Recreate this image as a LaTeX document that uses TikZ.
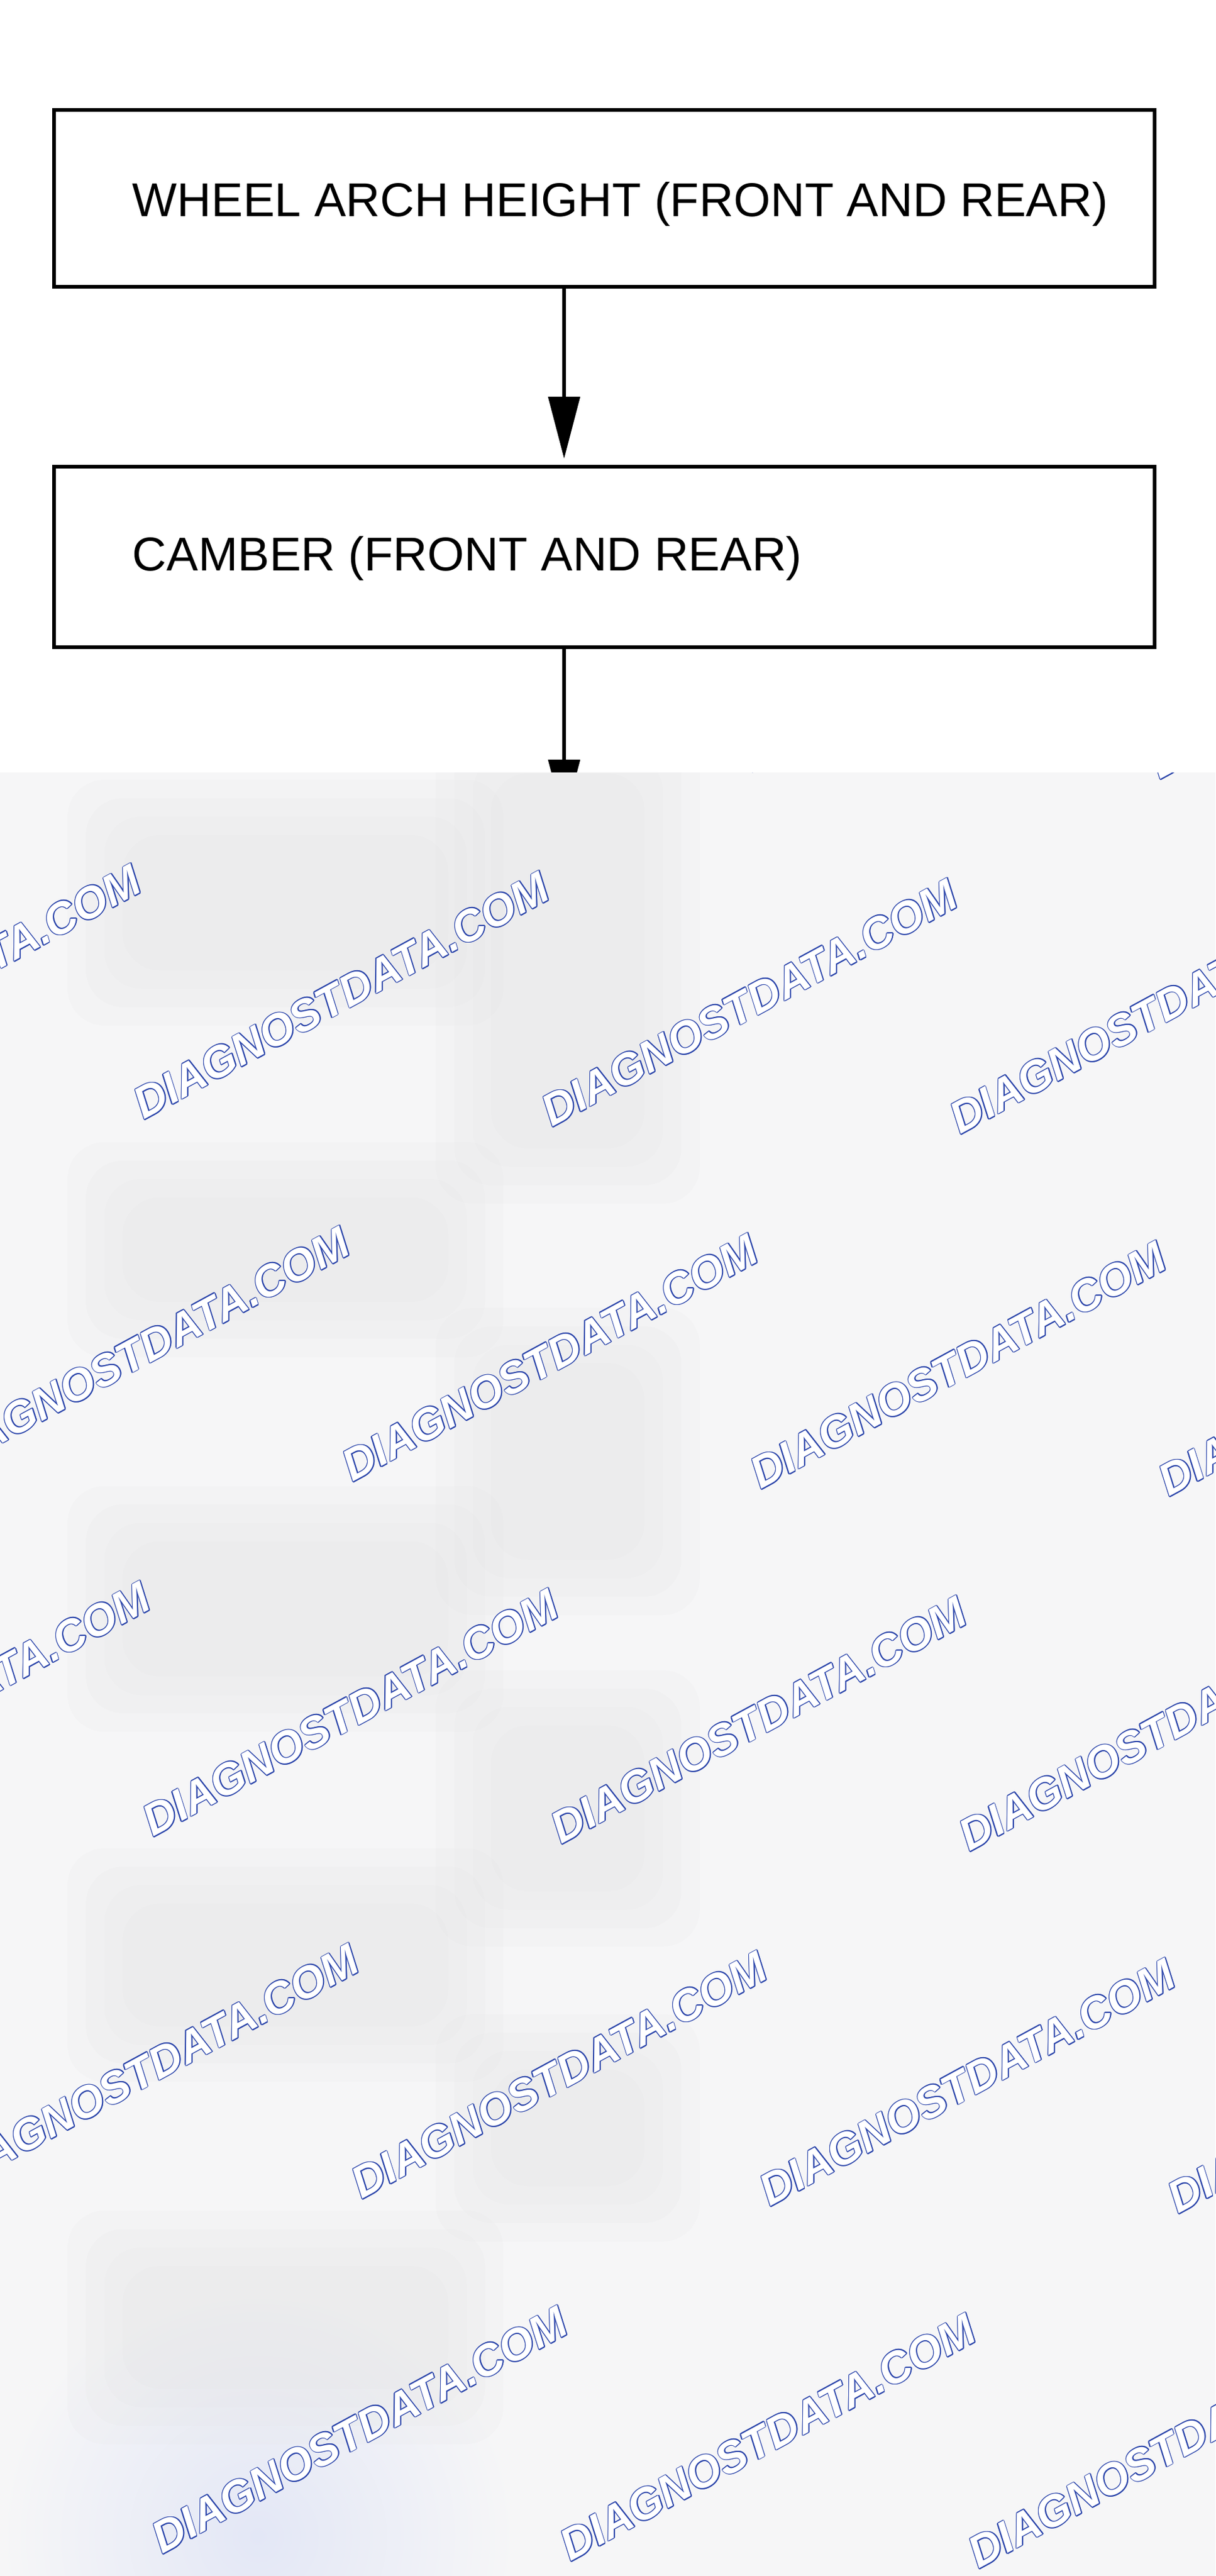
\documentclass[tikz,border=0pt]{standalone}
\usepackage{fontspec}
\setmainfont{Liberation Sans}
\usetikzlibrary{arrows.meta}

\definecolor{paygrey}{HTML}{F6F6F7}
\definecolor{hazegrey}{HTML}{E2E2E3}
\definecolor{hazeblue}{HTML}{E3E7F6}
\definecolor{wmblue}{HTML}{2A44AA}

% soft grey patch, stacked a few times to fake the blur
\newcommand\hazebox[4]{%
  \foreach \g in {0.9,0.6,0.3,0}
    \fill [hazegrey, opacity=0.12, rounded corners=0.6cm]
      ({#1-\g},{#2+\g}) rectangle ({#3+\g},{#4-\g});
}

\begin{document}
\begin{tikzpicture}[
    stagebox/.style={draw, line width=1.7pt, minimum width=17.93cm, inner sep=0pt},
    stagetext/.style={anchor=base west, inner sep=0pt, font=\fontsize{22}{26}\selectfont},
    flow/.style={line width=1.7pt, -{Triangle[width=0.51cm, length=1.01cm]}},
    wmark/.style={anchor=base west, inner sep=0pt, rotate=28.5,
      font=\fontsize{20.5}{24}\selectfont\bfseries\itshape}
  ]
  \fill [white] (0,0) rectangle (19.8,-41.95);
  \useasboundingbox (0,0) rectangle (19.8,-41.95);

  % the two steps that are still readable
  \node [stagebox, minimum height=2.88cm] (arch) at (9.845,-3.23) {};
  \node [stagetext] (archtxt) at (2.15,-3.53) {WHEEL ARCH HEIGHT (FRONT AND REAR)};

  \node [stagebox, minimum height=2.94cm] (camber) at (9.845,-9.07) {};
  \node [stagetext] (cambertxt) at (2.15,-9.29) {CAMBER (FRONT AND REAR)};

  \coordinate (axis) at (9.19,0);
  \coordinate (archin) at (9.19,-7.47);
  \coordinate (next) at (9.19,-13.38);

  \draw [flow] (arch.south -| axis) -- (archin);
  \draw [flow] (camber.south -| axis) -- (next);

  % blurred rest of the page
  \fill [paygrey] (0,-12.58) rectangle (19.8,-41.95);
  \begin{scope}
    \clip (0,-12.58) rectangle (19.8,-41.95);
    \shade [inner color=hazeblue, outer color=paygrey] (4.2,-41.3) circle (4.2);

    \hazebox{8.0}{-12.6}{10.5}{-18.7}
    \hazebox{8.0}{-22.2}{10.5}{-25.4}
    \hazebox{8.0}{-28.1}{10.5}{-30.8}
    \hazebox{8.0}{-33.7}{10.5}{-35.6}

    \hazebox{2.0}{-13.6}{7.3}{-15.8}
    \hazebox{2.0}{-19.5}{7.3}{-21.2}
    \hazebox{2.0}{-25.1}{7.3}{-27.3}
    \hazebox{2.0}{-31.0}{7.3}{-33.0}
    \hazebox{2.0}{-36.9}{7.3}{-38.9}

    \foreach \k in {-1,...,4}
      \foreach \i in {-2,...,3} {
        \coordinate (wm-\i-\k) at ({2.34+6.65*\i+3.40*\k},{-18.24-0.12*\i-5.90*\k});
        \foreach \a in {0,45,...,315}
          \node [wmark, text=wmblue, shift={(\a:0.45pt)}] at (wm-\i-\k) {DIAGNOSTDATA.COM};
        \node [wmark, text=white] (wmtext-\i-\k) at (wm-\i-\k) {DIAGNOSTDATA.COM};
      }
  \end{scope}
\end{tikzpicture}
\end{document}
